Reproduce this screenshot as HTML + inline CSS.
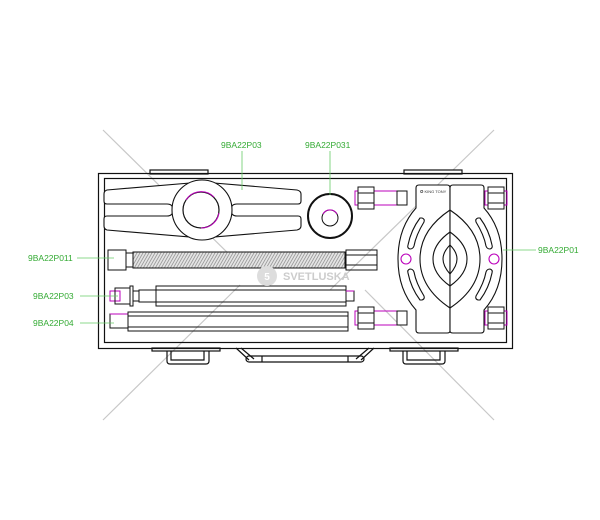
<!DOCTYPE html>
<html><head><meta charset="utf-8"><style>
html,body{margin:0;padding:0;background:#fff;width:600px;height:520px;overflow:hidden}
svg{display:block}
text{font-family:"Liberation Sans",sans-serif;}
</style></head><body>
<svg width="600" height="520" viewBox="0 0 600 520" xmlns="http://www.w3.org/2000/svg">
<defs>
<pattern id="thr" width="3" height="4" patternUnits="userSpaceOnUse" patternTransform="skewX(-30)">
<rect width="3" height="4" fill="#e4e4e4"/><line x1="1" y1="0" x2="1" y2="4" stroke="#888" stroke-width="0.8"/>
</pattern>
</defs>
<g stroke="#c8c8c8" stroke-width="1.2">
<line x1="103" y1="130" x2="240" y2="265"/>
<line x1="494" y1="130" x2="330" y2="290"/>
<line x1="103" y1="420" x2="240" y2="285"/>
<line x1="494" y1="420" x2="365" y2="290"/>
</g>
<g fill="none" stroke="#111" stroke-width="1.2">
<rect x="150" y="170" width="58" height="4" fill="#fff"/>
<rect x="404" y="170" width="58" height="4" fill="#fff"/>
<rect x="98.5" y="173.5" width="414" height="175"/>
<rect x="104.5" y="178.5" width="402" height="164"/>
<rect x="152" y="348" width="68" height="3"/>
<path d="M167 351 v10 q0 3 3 3 h36 q3 0 3 -3 v-10 M171 351 v9 h33 v-9"/>
<rect x="390" y="348" width="68" height="3"/>
<path d="M403 351 v10 q0 3 3 3 h36 q3 0 3 -3 v-10 M407 351 v9 h33 v-9"/>
<path d="M236 348 l13 12 M241 348 l13 11 M374 348 l-13 12 M369 348 l-13 11"/>
<rect x="246" y="356" width="118" height="6" rx="3"/>
<line x1="262" y1="356" x2="262" y2="362"/><line x1="348" y1="356" x2="348" y2="362"/>
</g>
<!-- beam -->
<g fill="#fff" stroke="#111" stroke-width="1.1">
<path d="M202 182 L107 190 Q104 191 104 194 L104 201 Q104 204 107 204 L167 204 Q173 204 173 210 Q173 216 167 216 L107 216 Q104 216 104 219 L104 226 Q104 229 107 230 L202 238 Z"/>
<path d="M202 182 L297 190 Q301 191 301 194 L301 201 Q301 204 298 204 L237 204 Q231 204 231 210 Q231 216 237 216 L298 216 Q301 216 301 219 L301 226 Q301 229 297 230 L202 238 Z"/>
<circle cx="202" cy="210" r="30"/>
</g>
<circle cx="201" cy="210" r="18" fill="none" stroke="#111" stroke-width="1.2"/>
<path d="M186 200 A18 18 0 0 1 214 197 M219 213 A18 18 0 0 1 201 228" fill="none" stroke="#b0b" stroke-width="1"/>
<circle cx="330" cy="216" r="22" fill="none" stroke="#111" stroke-width="2"/>
<circle cx="330" cy="218" r="8" fill="none" stroke="#111" stroke-width="1"/>
<path d="M323 214 A8 8 0 0 1 337 214" fill="none" stroke="#b0b" stroke-width="1"/>
<g fill="none" stroke="#111" stroke-width="1">
<rect x="108" y="250" width="18" height="20"/>
<rect x="126" y="253" width="7" height="14"/>
<rect x="133" y="252" width="212" height="16" fill="url(#thr)"/>
<rect x="346" y="250" width="31" height="20"/>
<line x1="346" y1="255" x2="377" y2="255"/><line x1="346" y1="265" x2="377" y2="265"/>
</g>
<g fill="none" stroke="#111" stroke-width="1">
<rect x="110" y="291" width="10" height="10" stroke="#b0b"/>
<rect x="115" y="288" width="15" height="16"/>
<rect x="130" y="286" width="3" height="20"/>
<rect x="133" y="291" width="6" height="10"/>
<rect x="139" y="290" width="17" height="12"/>
<rect x="156" y="286" width="190" height="20"/>
<line x1="156" y1="290" x2="346" y2="290"/><line x1="156" y1="302" x2="346" y2="302"/>
<rect x="346" y="291" width="8" height="10"/>
<line x1="346" y1="291" x2="354" y2="291" stroke="#b0b"/>
<rect x="110" y="314" width="18" height="14"/>
<line x1="110" y1="314" x2="128" y2="314" stroke="#b0b"/>
<rect x="128" y="312" width="220" height="19"/>
<line x1="128" y1="316" x2="348" y2="316"/><line x1="128" y1="327" x2="348" y2="327"/>
</g>
<g fill="none" stroke="#111" stroke-width="1">
<rect x="355" y="191" width="49" height="14" stroke="#b0b"/>
<rect x="358" y="187" width="16" height="22" fill="#fff" stroke="#111"/>
<line x1="358" y1="193" x2="374" y2="193"/><line x1="358" y1="203" x2="374" y2="203"/>
<rect x="397" y="191" width="10" height="14" fill="#fff"/>
<rect x="355" y="311" width="49" height="14" stroke="#b0b"/>
<rect x="358" y="307" width="16" height="22" fill="#fff"/>
<line x1="358" y1="313" x2="374" y2="313"/><line x1="358" y1="323" x2="374" y2="323"/>
<rect x="397" y="311" width="10" height="14" fill="#fff"/>
<rect x="485" y="191" width="22" height="14" stroke="#b0b"/>
<rect x="488" y="187" width="16" height="22" fill="#fff"/>
<line x1="488" y1="193" x2="504" y2="193"/><line x1="488" y1="203" x2="504" y2="203"/>
<rect x="485" y="311" width="22" height="14" stroke="#b0b"/>
<rect x="488" y="307" width="16" height="22" fill="#fff"/>
<line x1="488" y1="313" x2="504" y2="313"/><line x1="488" y1="323" x2="504" y2="323"/>
</g>
<g fill="none" stroke="#111" stroke-width="1.1">
<path d="M416 188 Q416 185 419 185 L447 185 Q450 185 450 188 L450 331 Q450 333 447 333 L419 333 Q416 333 416 330 L416 310 Q398 290 398 259 Q398 228 416 208 Z" fill="#fff"/>
<path d="M450 188 Q450 185 453 185 L481 185 Q484 185 484 188 L484 208 Q502 228 502 259 Q502 290 484 310 L484 330 Q484 333 481 333 L453 333 Q450 333 450 331 Z" fill="#fff"/>
<path d="M450 210 Q420 230 420 259 Q420 288 450 308 Q480 288 480 259 Q480 230 450 210 Z"/>
<path d="M450 232 Q433 244 433 259 Q433 274 450 286 Q467 274 467 259 Q467 244 450 232 Z"/>
<path d="M450 245 Q443 252 443 259 Q443 266 450 274 Q457 266 457 259 Q457 252 450 245 Z"/>
<path d="M420 218 Q411 230 408 245 Q407 248 410 249 Q413 249 414 246 Q416 235 424 222 Q425 219 422 218 Z"/>
<path d="M420 300 Q411 288 408 273 Q407 270 410 269 Q413 269 414 272 Q416 283 424 296 Q425 299 422 300 Z"/>
<path d="M480 218 Q489 230 492 245 Q493 248 490 249 Q487 249 486 246 Q484 235 476 222 Q475 219 478 218 Z"/>
<path d="M480 300 Q489 288 492 273 Q493 270 490 269 Q487 269 486 272 Q484 283 476 296 Q475 299 478 300 Z"/>
<circle cx="406" cy="259" r="5" stroke="#b0b"/>
<circle cx="494" cy="259" r="5" stroke="#b0b"/>
</g>
<text x="420" y="193" font-size="4" fill="#333">✪ KING TONY</text>
<circle cx="267" cy="276" r="10" fill="#ddd"/>
<text x="267" y="280" font-size="10" fill="#fff" text-anchor="middle" font-weight="bold">5</text>
<text x="283" y="280" font-size="11" fill="#ccc" font-weight="bold">SVETLUSKA</text>
<g stroke="#6c6" stroke-width="0.8">
<line x1="242" y1="151" x2="242" y2="190"/>
<line x1="330" y1="151" x2="330" y2="195"/>
<line x1="503" y1="250" x2="536" y2="250"/>
<line x1="77" y1="258" x2="114" y2="258"/>
<line x1="80" y1="296" x2="118" y2="296"/>
<line x1="80" y1="323" x2="114" y2="323"/>
</g>
<g fill="#3a3" font-size="8.5">
<text x="221" y="148">9BA22P03</text>
<text x="305" y="148">9BA22P031</text>
<text x="538" y="253">9BA22P01</text>
<text x="28" y="261">9BA22P011</text>
<text x="33" y="299">9BA22P03</text>
<text x="33" y="326">9BA22P04</text>
</g>
</svg>
</body></html>
